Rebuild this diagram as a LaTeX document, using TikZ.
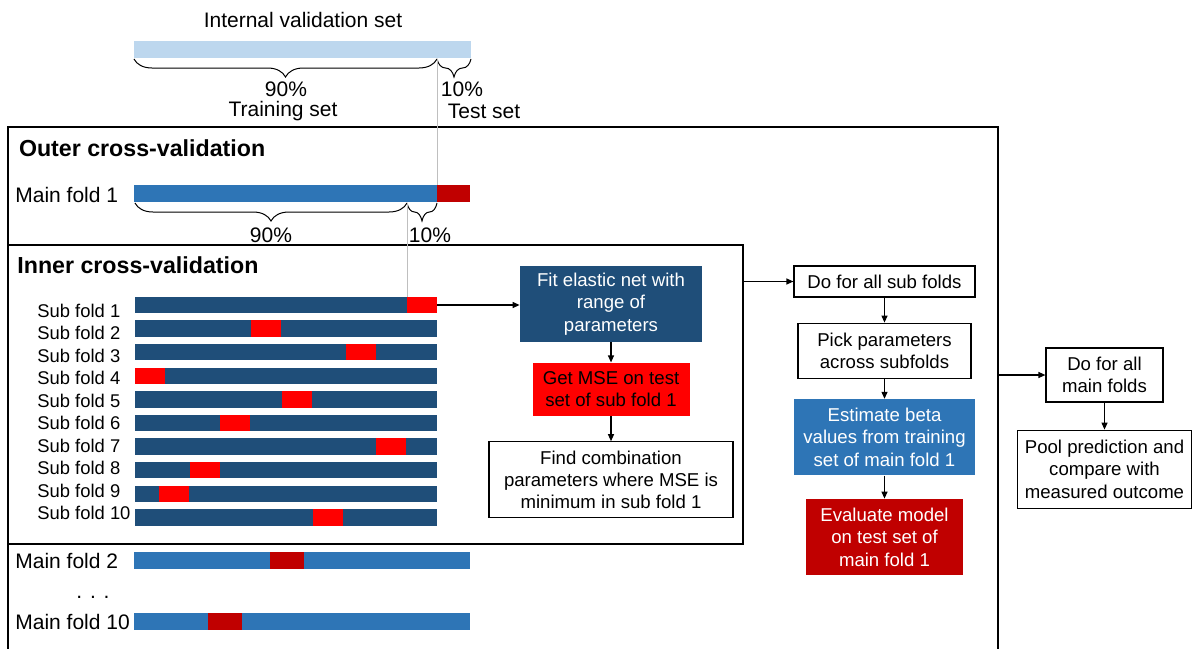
\documentclass[tikz,border=0pt]{standalone}
\usepackage{fontspec}
\setmainfont{Liberation Sans}
\usetikzlibrary{positioning,arrows.meta,decorations.pathreplacing,calc}
\definecolor{navyfold}{RGB}{31,78,121}
\definecolor{trainblue}{RGB}{46,117,182}
\definecolor{paleblue}{RGB}{189,215,238}
\definecolor{testred}{RGB}{192,0,0}
\definecolor{subred}{RGB}{255,0,0}

\begin{document}
\begin{tikzpicture}[
    x=0.5pt, y=-0.5pt,
    >={Triangle[length=3.5pt,width=3pt]},
    every node/.style={font=\fontsize{10.5}{12.6}\selectfont},
    bar/.style={rectangle, inner sep=0pt, outer sep=0pt, anchor=west},
    cvframe/.style={draw=black, line width=1.3pt, inner sep=0pt, outer sep=0pt},
    heading/.style={anchor=west, inner sep=0pt, font=\bfseries\fontsize{11.6}{14}\selectfont},
    foldname/.style={anchor=west, inner sep=0pt},
    sublabel/.style={anchor=west, inner sep=0pt, font=\fontsize{9.2}{11}\selectfont},
    box/.style={rectangle, align=center, inner sep=0pt, font=\fontsize{9.3}{11.2}\selectfont},
    plainbox/.style={box, draw=black, line width=0.6pt, fill=white},
    pbrace/.style={decorate, decoration={brace, amplitude=9pt, mirror}, line width=0.5pt},
    guide/.style={draw=black!25, line width=0.4pt},
    link/.style={->, line width=0.6pt}
]
\useasboundingbox (0,0) rectangle (1192,648);

% frames
\node[cvframe, minimum width=495pt, minimum height=266.5pt] (outer) at (503,393.5) {};
\node[cvframe, minimum width=367.5pt, minimum height=149.5pt] (inner) at (375.5,394.5) {};

% internal validation set
\node (ivtitle) at (303,20) {Internal validation set};
\node[bar, fill=paleblue, minimum width=168.5pt, minimum height=8.5pt] (ivset) at (134,49.5) {};
\draw[pbrace] (134,59) -- (437,59);
\draw[pbrace] (437,59) -- (471,59);
\node (ivtrain) at (286,89) {90\%};
\node (ivtrainname) at (283,111) {Training set};
\node (ivtest) at (462,89) {10\%};
\node (ivtestname) at (484,111) {Test set};

% outer cross-validation
\node[heading] (outertitle) at (18.6,148) {Outer cross-validation};
\node[foldname] (mf1) at (15,195) {Main fold 1};
\node[bar, fill=trainblue, minimum width=151.5pt, minimum height=8.5pt] (mf1train) at (134,193.5) {};
\node[bar, fill=testred, minimum width=16.5pt, minimum height=8.5pt] (mf1test) at (mf1train.east) {};
\draw[pbrace] (135,203) -- (407,203);
\draw[pbrace] (407,203) -- (437,203);
\node (mf1trainpct) at (271,235) {90\%};
\node (mf1testpct) at (430,235) {10\%};

% inner cross-validation
\node[heading] (innertitle) at (17,265) {Inner cross-validation};
\foreach \i/\r in {1/407,2/251,3/346,4/135,5/282,6/220,7/376,8/190,9/159,10/313} {
    \node[bar, fill=navyfold, minimum width=151pt, minimum height=8.25pt] (sub\i) at (135,{305+23.6*(\i-1)}) {};
    \node[bar, fill=subred, minimum width=15pt, minimum height=8.25pt] (subtest\i) at (\r,{305+23.6*(\i-1)}) {};
    \node[sublabel] (subname\i) at (37,{310.7+22.48*(\i-1)}) {Sub fold \i};
}

\draw[guide] (437,59) -- (mf1test.north west);
\draw[guide] (407,203) -- (subtest1.north west);

% inner steps
\node[box, fill=navyfold, text=white, minimum width=91pt, minimum height=38pt] (fit) at (611,304) {Fit elastic net with\\range of\\parameters};
\node[box, fill=subred, minimum width=78.5pt, minimum height=26.5pt, below=10pt of fit] (mse) {Get MSE on test\\set of sub fold 1};
\node[plainbox, minimum width=122pt, minimum height=38pt, below=12.5pt of mse] (find) {Find combination\\parameters where MSE is\\minimum in sub fold 1};

% outer steps
\node[plainbox, minimum width=90.5pt, minimum height=15.5pt] (allsub) at (884.5,281.5) {Do for all sub folds};
\node[plainbox, minimum width=86.5pt, minimum height=27.5pt, below=12.5pt of allsub] (pick) {Pick parameters\\across subfolds};
\node[box, fill=trainblue, text=white, minimum width=90.5pt, minimum height=38pt, below=10pt of pick] (beta) {Estimate beta\\values from training\\set of main fold 1};
\node[box, fill=testred, text=white, minimum width=78.5pt, minimum height=38pt, below=11.5pt of beta] (evalm) {Evaluate model\\on test set of\\main fold 1};

% final steps
\node[plainbox, minimum width=58.5pt, minimum height=27pt] (allmain) at (1104.5,375) {Do for all\\main folds};
\node[plainbox, minimum width=87pt, minimum height=39pt, below=13.5pt of allmain] (pool) {Pool prediction and\\compare with\\measured outcome};

% remaining main folds
\node[foldname] (mf2) at (15,561) {Main fold 2};
\node[bar, fill=trainblue, minimum width=168pt, minimum height=8.5pt] (mf2bar) at (134,560) {};
\node[bar, fill=testred, minimum width=17pt, minimum height=8.5pt] (mf2test) at (270,560) {};
\node (dots) at (93,597) {. . .};
\node[foldname] (mf10) at (15,622) {Main fold 10};
\node[bar, fill=trainblue, minimum width=168pt, minimum height=8.5pt] (mf10bar) at (134,621) {};
\node[bar, fill=testred, minimum width=17pt, minimum height=8.5pt] (mf10test) at (208,621) {};

% arrows
\draw[link] (subtest1.east) -- (subtest1.east -| fit.west);
\draw[link] (fit) -- (mse);
\draw[link] (mse) -- (find);
\draw[link] (inner.east |- allsub.west) -- (allsub.west);
\draw[link] (allsub) -- (pick);
\draw[link] (pick) -- (beta);
\draw[link] (beta) -- (evalm);
\draw[link] (outer.east |- allmain.west) -- (allmain.west);
\draw[link] (allmain) -- (pool);

\end{tikzpicture}
\end{document}
